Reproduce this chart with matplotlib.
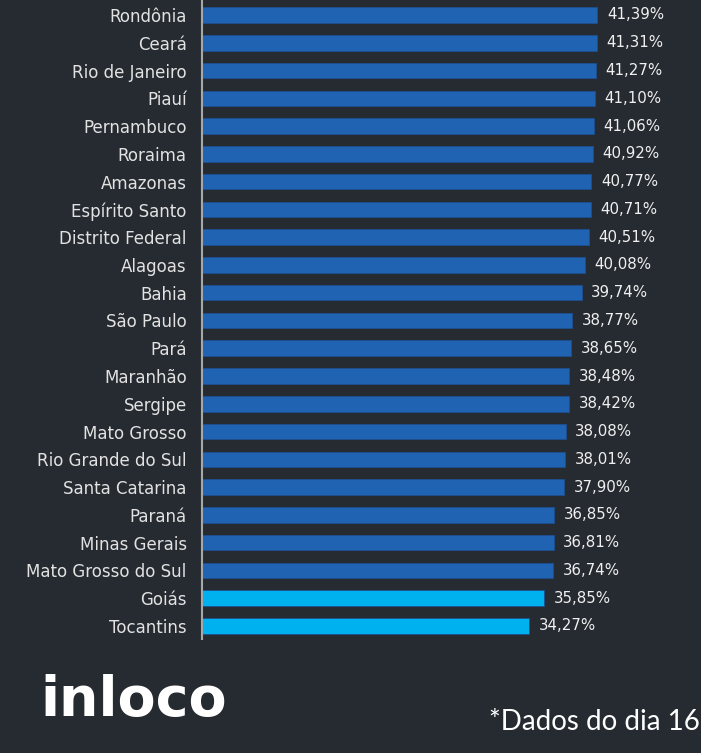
import matplotlib.pyplot as plt

estados = ['Rondônia', 'Ceará', 'Rio de Janeiro', 'Piauí', 'Pernambuco', 'Roraima',
           'Amazonas', 'Espírito Santo', 'Distrito Federal', 'Alagoas', 'Bahia',
           'São Paulo', 'Pará', 'Maranhão', 'Sergipe', 'Mato Grosso',
           'Rio Grande do Sul', 'Santa Catarina', 'Paraná', 'Minas Gerais',
           'Mato Grosso do Sul', 'Goiás', 'Tocantins']
valores = [41.39, 41.31, 41.27, 41.10, 41.06, 40.92, 40.77, 40.71, 40.51, 40.08, 39.74,
           38.77, 38.65, 38.48, 38.42, 38.08, 38.01, 37.90, 36.85, 36.81, 36.74,
           35.85, 34.27]
destaque = ['Goiás', 'Tocantins']

fundo = '#262b31'
azul = '#2163b3'
ciano = '#00b1ef'
texto = '#e2e2e2'

plt.rcParams['font.family'] = ['DejaVu Sans']

fig = plt.figure(figsize=(7.01, 7.53), dpi=100, facecolor=fundo)
ax = fig.add_axes([202 / 701, 1 - 639 / 753, 1 - 202 / 701, 639 / 753])
ax.set_facecolor(fundo)

y = list(range(len(estados)))
cores = [ciano if e in destaque else azul for e in estados]
ax.barh(y, valores, height=0.56, color=cores, edgecolor='#1d4f8f', linewidth=0.6)

for yi, v in zip(y, valores):
    ax.text(v + 1.0, yi, f'{v:.2f}%'.replace('.', ','), va='center', ha='left',
            color='#f0f0f0', fontsize=10.8)

ax.set_xlim(0, 52.25)
ax.set_ylim(22.47, -0.54)
ax.set_yticks(y)
ax.set_yticklabels(estados, color=texto, fontsize=12)
ax.tick_params(axis='y', length=0, pad=11)
ax.set_xticks([])
for s in ['top', 'right', 'bottom']:
    ax.spines[s].set_visible(False)
ax.spines['left'].set_color('#a8a8a8')
ax.spines['left'].set_linewidth(1.5)

fig.text(40 / 701, 1 - 716 / 753, 'inloco', color='white', fontsize=40,
         fontweight='bold', ha='left', va='baseline')
fig.text(700 / 701, 1 - 730 / 753, '*Dados do dia 16', color='white', fontsize=20,
         family=['Lato', 'DejaVu Sans'], ha='right', va='baseline')

fig.savefig('out.png', dpi=100, facecolor=fundo)
